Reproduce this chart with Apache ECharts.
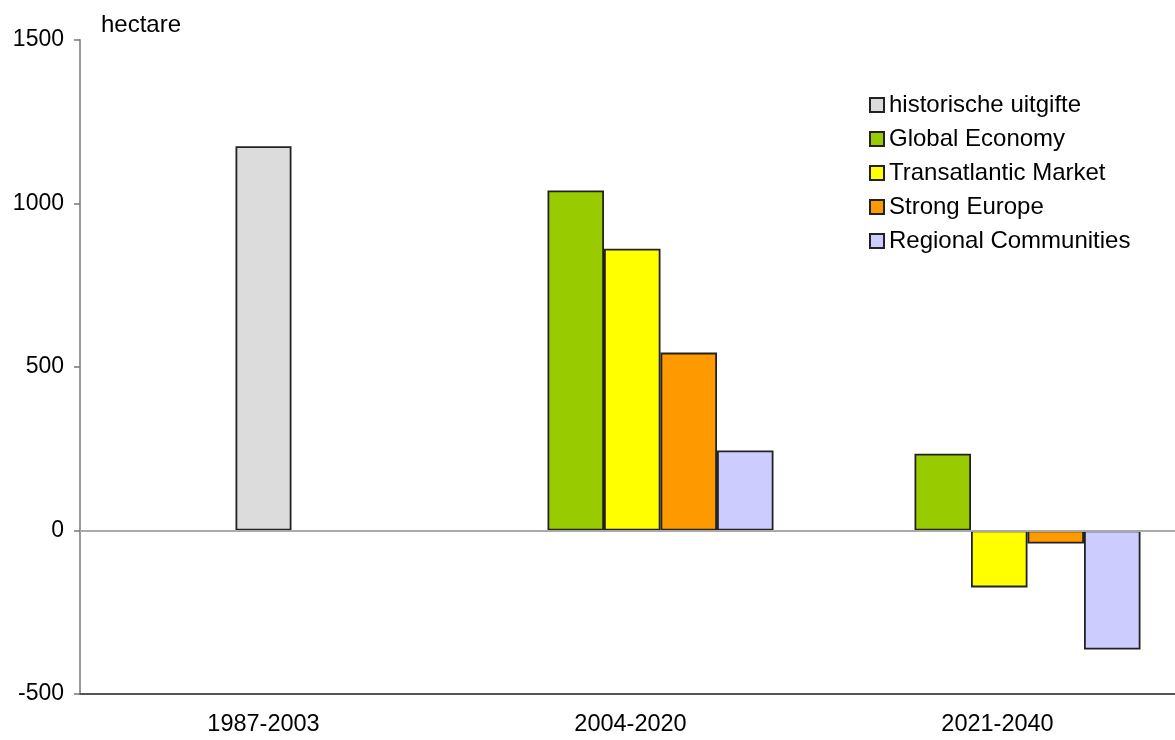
<!DOCTYPE html>
<html>
<head>
<meta charset="utf-8">
<script src="https://cdn.jsdelivr.net/npm/echarts@6/dist/echarts.min.js"></script>
<style>
  html, body { margin: 0; padding: 0; background: #fff; overflow: hidden; }
  #chart { width: 1181px; height: 740px; }
</style>
</head>
<body>
<div id="chart"></div>
<script>
const periods = ['1987-2003', '2004-2020', '2021-2040'];
const historisch = [1175, null, null];
const globalEconomy = [null, 1040, 235];
const transatlantic = [null, 862, -174];
const strongEurope = [null, 544, -40];
const regional = [null, 245, -364];
const yTicks = { min: -500, max: 1500, interval: 500 };

const font = "'Liberation Sans', Arial, sans-serif";
const border = { borderColor: '#222', borderWidth: 1.8 };

const myChart = echarts.init(document.getElementById('chart'));

const option = {
    animation: false,
    title: {
        text: 'hectare',
        left: 96,
        top: 8,
        textStyle: { fontFamily: font, fontSize: 24, fontWeight: 'normal', color: '#000' }
    },
    legend: {
        orient: 'vertical',
        left: 864,
        top: 88,
        itemWidth: 14,
        itemHeight: 14,
        itemGap: 10,
        icon: 'rect',
        textStyle: { fontFamily: font, fontSize: 24, color: '#000' },
        data: ['historische uitgifte', 'Global Economy', 'Transatlantic Market', 'Strong Europe', 'Regional Communities']
    },
    // chart div is a little wider than the window so the last category runs off the edge
    grid: { left: 80, top: 40, right: 0, bottom: 46 },
    xAxis: [
        {
            type: 'category',
            data: periods,
            axisLine: { onZero: false, lineStyle: { color: '#555', width: 2 } },
            axisTick: { show: false },
            axisLabel: { fontFamily: font, fontSize: 23.5, color: '#000', margin: 19 }
        },
        {
            type: 'category',
            data: periods,
            show: false
        }
    ],
    yAxis: {
        type: 'value',
        min: yTicks.min,
        max: yTicks.max,
        interval: yTicks.interval,
        axisLine: { show: true, lineStyle: { color: '#999', width: 2 } },
        axisTick: { show: true, length: 6, lineStyle: { color: '#777', width: 1.5 } },
        splitLine: { show: false },
        axisLabel: { fontFamily: font, fontSize: 23, color: '#000', margin: 16, formatter: v => String(v) }
    },
    series: [
        {
            name: 'historische uitgifte',
            type: 'bar',
            xAxisIndex: 1,
            barWidth: 56,
            data: historisch,
            itemStyle: Object.assign({ color: '#dcdcdc' }, border),
            markLine: {
                silent: true,
                symbol: 'none',
                label: { show: false },
                lineStyle: { color: '#aaa', width: 2, type: 'solid' },
                data: [{ yAxis: 0 }]
            }
        },
        {
            // empty spacer slot, pushes the scenario bars right of the label
            name: 'spacer',
            type: 'bar',
            barWidth: 60,
            barGap: '0%',
            data: [null, null, null]
        },
        {
            name: 'Global Economy',
            type: 'bar',
            barWidth: 56.5,
            barGap: '0%',
            data: globalEconomy,
            itemStyle: Object.assign({ color: '#99cc00' }, border)
        },
        {
            name: 'Transatlantic Market',
            type: 'bar',
            barWidth: 56.5,
            barGap: '0%',
            data: transatlantic,
            itemStyle: Object.assign({ color: '#ffff00' }, border)
        },
        {
            name: 'Strong Europe',
            type: 'bar',
            barWidth: 56.5,
            barGap: '0%',
            data: strongEurope,
            itemStyle: Object.assign({ color: '#ff9900' }, border)
        },
        {
            name: 'Regional Communities',
            type: 'bar',
            barWidth: 56.5,
            barGap: '0%',
            data: regional,
            itemStyle: Object.assign({ color: '#ccccff' }, border)
        }
    ]
};

myChart.setOption(option);
</script>
</body>
</html>
